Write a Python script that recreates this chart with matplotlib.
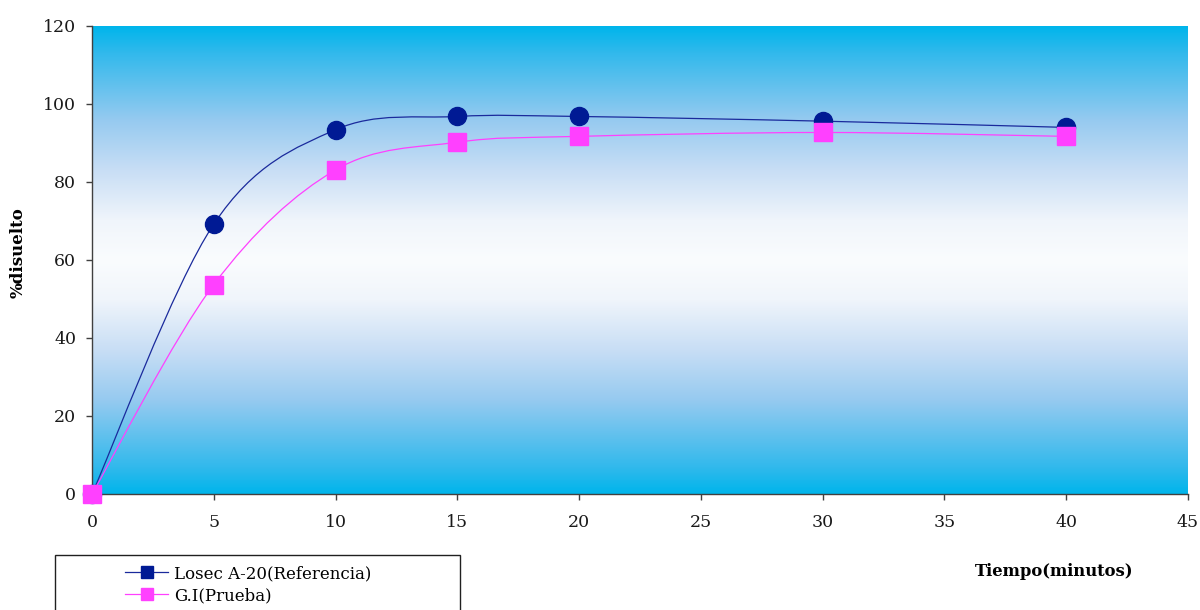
import numpy as np
import matplotlib.pyplot as plt
from matplotlib.path import Path
from matplotlib.patches import PathPatch, Rectangle
from matplotlib.lines import Line2D

tiempo = [0, 5, 10, 15, 20, 30, 40]
losec = [0, 69.2, 93.4, 96.8, 96.8, 95.6, 94.0]
gi = [0, 53.7, 83.1, 90.2, 91.7, 92.7, 91.7]

serif = 'DejaVu Serif'
blue_line = '#1a2a9c'
blue_mark = '#001a94'
pink = '#ff40ff'


def smooth_path(xs, ys):
    # bezier segments through every point, like a spreadsheet "smoothed line"
    pts = np.column_stack([xs, ys]).astype(float)
    n = len(pts)
    verts = [pts[0]]
    codes = [Path.MOVETO]
    for i in range(n - 1):
        p0 = pts[i - 1] if i > 0 else pts[i]
        p1 = pts[i]
        p2 = pts[i + 1]
        p3 = pts[i + 2] if i + 2 < n else pts[i + 1]
        c1 = p1 + (p2 - p0) / 6.0
        c2 = p2 - (p3 - p1) / 6.0
        verts += [c1, c2, p2]
        codes += [Path.CURVE4] * 3
    return Path(verts, codes)


fig = plt.figure(figsize=(12, 6.1), dpi=100)
ax = fig.add_axes([92 / 1200, 1 - 494 / 610, 1096 / 1200, 468 / 610])

# cyan - white - cyan background, colour stops from the centre outwards
stop_t = [0.0, 0.17, 0.385, 0.6, 0.885, 1.0]
stop_c = np.array([[250, 252, 254], [240, 245, 251], [200, 222, 245],
                   [150, 202, 240], [50, 185, 236], [0, 181, 235]]) / 255.0
t = np.abs(np.linspace(-1, 1, 400))
grad = np.column_stack([np.interp(t, stop_t, stop_c[:, k]) for k in range(3)])
ax.imshow(grad[:, None, :].repeat(2, axis=1), extent=[0, 45, 0, 120],
          aspect='auto', origin='lower', zorder=0)

ax.add_patch(PathPatch(smooth_path(tiempo, losec), facecolor='none',
                       edgecolor=blue_line, lw=0.9, zorder=2))
ax.plot(tiempo, losec, ls='none', marker='o', ms=13, color=blue_mark,
        zorder=3, clip_on=False)
ax.add_patch(PathPatch(smooth_path(tiempo, gi), facecolor='none',
                       edgecolor=pink, lw=0.9, zorder=4))
ax.plot(tiempo, gi, ls='none', marker='s', ms=13, color=pink, zorder=5,
        clip_on=False)

ax.set_xlim(0, 45)
ax.set_ylim(0, 120)
ax.set_xticks(range(0, 46, 5))
ax.set_yticks(range(0, 121, 20))
for s in ['top', 'right']:
    ax.spines[s].set_visible(False)
for s in ['left', 'bottom']:
    ax.spines[s].set_color('#404040')
    ax.spines[s].set_linewidth(1.0)
ax.tick_params(direction='out', length=4.5, width=1, color='#404040',
               labelsize=12.5, labelcolor='#1a1a1a')
ax.tick_params(axis='x', pad=10)
ax.tick_params(axis='y', pad=7)
for lab in ax.get_xticklabels() + ax.get_yticklabels():
    lab.set_family(serif)

fig.text(18 / 1200, 1 - 253 / 610, '%disuelto', rotation=90, ha='center',
         va='center', family=serif, weight='bold', fontsize=12)
fig.text(1054 / 1200, 1 - 571 / 610, 'Tiempo(minutos)', ha='center',
         va='center', family=serif, weight='bold', fontsize=11.8)

# legend box runs off the bottom edge
fig.patches.append(Rectangle((55 / 1200, -0.05), 405 / 1200, 0.05 + 55 / 610,
                             transform=fig.transFigure, facecolor='white',
                             edgecolor='#202020', lw=1.0))
handles = [
    Line2D([], [], color=blue_line, lw=0.9, marker='s', ms=8, mfc=blue_mark,
           mec=blue_mark),
    Line2D([], [], color=pink, lw=0.9, marker='s', ms=9, mfc=pink, mec=pink),
]
fig.legend(handles, ['Losec A-20(Referencia)', 'G.I(Prueba)'],
           loc='upper left', bbox_to_anchor=(115 / 1200, 1 - 555 / 610),
           frameon=False, handlelength=2.6, handletextpad=0.35,
           labelspacing=0.3, borderpad=0.1, prop={'family': serif, 'size': 12})

fig.savefig('out.png', dpi=100)
